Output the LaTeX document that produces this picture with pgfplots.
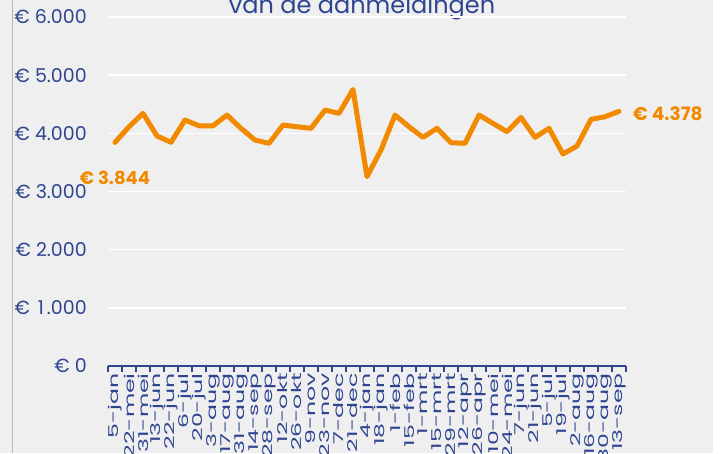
\documentclass[border=0pt]{standalone}
\usepackage{fontspec}
\setmainfont{Poppins}[Numbers=Monospaced]
\newfontfamily\tallfont[FakeStretch=1.75]{Poppins}
\usepackage{pgfplots}
\pgfplotsset{compat=1.18}
\definecolor{axblue}{RGB}{47,69,145}
\definecolor{orng}{RGB}{242,138,0}
\definecolor{bg}{RGB}{239,239,239}
\newcommand{\one}{\makebox[\fontcharwd\font`0][c]{1}}
\begin{document}
\begin{tikzpicture}[x=1pt,y=1pt]
\fill[white] (0,0) rectangle (723,453);
\fill[bg] (0,0) rectangle (713,453);
\draw[black!28, line width=1pt] (12.5,0) -- (12.5,453);
\begin{scope}
\clip (0,0) rectangle (723,453);
\node[text=axblue, font=\fontsize{24}{28}\selectfont, anchor=base] at (362,439) {van de aanmeldingen};
\begin{axis}[
  at={(108pt,87pt)}, anchor=south west,
  scale only axis, width=518pt, height=349pt,
  xmin=0.5, xmax=37.5, ymin=0, ymax=6000,
  axis line style={draw=none},
  ytick={1000,2000,...,6000},
  yticklabels={€ \one.000,€ 2.000,€ 3.000,€ 4.000,€ 5.000,€ 6.000},
  extra y ticks={0},
  extra y tick labels={€ 0},
  extra y tick style={grid=none},
  ymajorgrids, grid style={white, line width=1.5pt},
  major tick length=0pt,
  ytick style={draw=none},
  xtick={1,...,37},
  xticklabels={5-jan,22-mei,31-mei,13-jun,22-jun,6-jul,20-jul,3-aug,17-aug,31-aug,14-sep,28-sep,12-okt,26-okt,9-nov,23-nov,7-dec,21-dec,4-jan,18-jan,1-feb,15-feb,1-mrt,15-mrt,29-mrt,12-apr,26-apr,10-mei,24-mei,7-jun,21-jun,5-jul,19-jul,2-aug,16-aug,30-aug,13-sep},
  xtick style={draw=none},
  yticklabel style={font=\fontsize{19}{22}\selectfont, text=axblue, anchor=east, inner sep=0pt, xshift=-21pt},
  xticklabel style={font=\tallfont\fontsize{13.5}{15}\selectfont, text=axblue, yshift=-7pt, rotate=90, anchor=east, inner sep=0pt},
  xticklabel pos=lower, yticklabel pos=left,
  clip=false,
]
\addplot[orng, line width=5pt, line join=round, line cap=round] coordinates {
(1,3844) (2,4113) (3,4343) (4,3954) (5,3846) (6,4228) (7,4130) (8,4130)
(9,4314) (10,4086) (11,3885) (12,3828) (13,4142) (14,4113) (15,4086) (16,4400)
(17,4343) (18,4755) (19,3256) (20,3713) (21,4314) (22,4113) (23,3931) (24,4086)
(25,3839) (26,3828) (27,4314) (28,4171) (29,4028) (30,4274) (31,3931) (32,4086)
(33,3645) (34,3782) (35,4240) (36,4285) (37,4378)
};
\draw[axblue, line width=1.2pt] (axis cs:0.5,0) -- (axis cs:37.5,0);
\pgfplotsinvokeforeach{0,...,37}{
  \draw[axblue, line width=1.2pt] (axis cs:{#1+0.5},0) -- ([yshift=-6pt]axis cs:{#1+0.5},0);
}
\node[text=orng, font=\fontsize{18}{22}\selectfont\bfseries, anchor=north, inner sep=0pt, yshift=-28pt] at (axis cs:1,3844) {€ 3.844};
\node[text=orng, font=\fontsize{18.5}{22}\selectfont\bfseries, anchor=west, inner sep=0pt, xshift=14pt, yshift=-2pt] at (axis cs:37,4378) {€ 4.378};
\end{axis}
\end{scope}
\pgfresetboundingbox
\useasboundingbox (0,0) rectangle (723,453);
\end{tikzpicture}
\end{document}
